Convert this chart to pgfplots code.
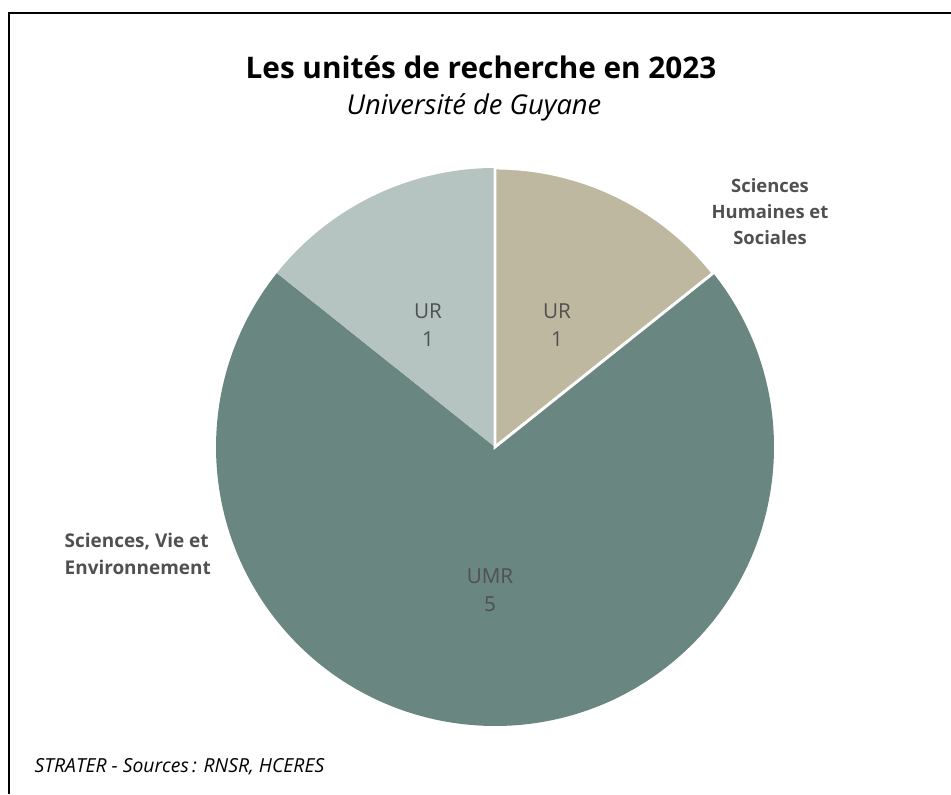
\documentclass[border=0pt]{standalone}
\usepackage{pgfplots}
\pgfplotsset{compat=1.18}
\usepackage{fontspec}
\setmainfont{Open Sans}
\definecolor{umr}{HTML}{6A8680}
\definecolor{urg}{HTML}{B5C4C1}
\definecolor{shs}{HTML}{BFB8A0}
\definecolor{lab}{HTML}{505050}
% data: number of research units
\def\vSHS{1}% UR, Sciences Humaines et Sociales
\def\vUMR{5}% UMR
\def\vURG{1}% UR
\pgfmathsetmacro\total{\vSHS+\vUMR+\vURG}
\pgfmathsetmacro\aA{90}
\pgfmathsetmacro\aB{\aA-360*\vSHS/\total}
\pgfmathsetmacro\aC{\aB-360*\vUMR/\total}
\pgfmathsetmacro\aD{\aC-360*\vURG/\total}
\def\R{279}
\begin{document}
\begin{tikzpicture}
\useasboundingbox (0,0) rectangle (713.25pt,595.5pt);
\begin{axis}[at={(0,0)},anchor=south west,
  width=713.25pt,height=595.5pt,scale only axis,
  xmin=0,xmax=951,ymin=0,ymax=794,hide axis,clip=false]
\addplot[draw=none] coordinates {(0,0) (951,794)};
% pie
\fill[umr] (axis cs:495,347) -- +(\aB:\R) arc[start angle=\aB,end angle=\aC,radius=\R] -- cycle;
\fill[urg] (axis cs:495,347) -- +(\aC:\R) arc[start angle=\aC,end angle=\aD,radius=\R] -- cycle;
\filldraw[fill=shs,draw=white,line width=2.2pt,line join=miter] (axis cs:495,347) -- +(\aA:\R) arc[start angle=\aA,end angle=\aB,radius=\R] -- cycle;
% frame
\draw[line width=2pt] (axis cs:9,0) -- (axis cs:9,781) -- (axis cs:951,781);
% texts
\node[font=\bfseries\fontsize{22.3}{26}\selectfont] at (axis cs:481,727) {Les unités de recherche en 2023};
\node[font=\itshape\fontsize{20.5}{23}\selectfont] at (axis cs:474,687) {Université de Guyane};
\node[font=\bfseries\fontsize{13.8}{19.5}\selectfont,text=lab,align=center] at (axis cs:770,582) {Sciences\\Humaines et\\Sociales};
\node[font=\bfseries\fontsize{14.2}{20}\selectfont,text=lab,align=left,anchor=west] at (axis cs:60,240) {Sciences, Vie et\\Environnement};
\node[font=\fontsize{15.5}{21}\selectfont,text=lab,align=center] at (axis cs:428,469) {UR\\1};
\node[font=\fontsize{15.5}{21}\selectfont,text=lab,align=center] at (axis cs:557,469) {UR\\1};
\node[font=\fontsize{15.5}{21}\selectfont,text=lab,align=center] at (axis cs:490,204) {UMR\\5};
\node[font=\itshape\fontsize{14.5}{16}\selectfont,anchor=west] at (axis cs:30,27) {STRATER - Sources\,: RNSR, HCERES};
\end{axis}
\end{tikzpicture}
\end{document}
